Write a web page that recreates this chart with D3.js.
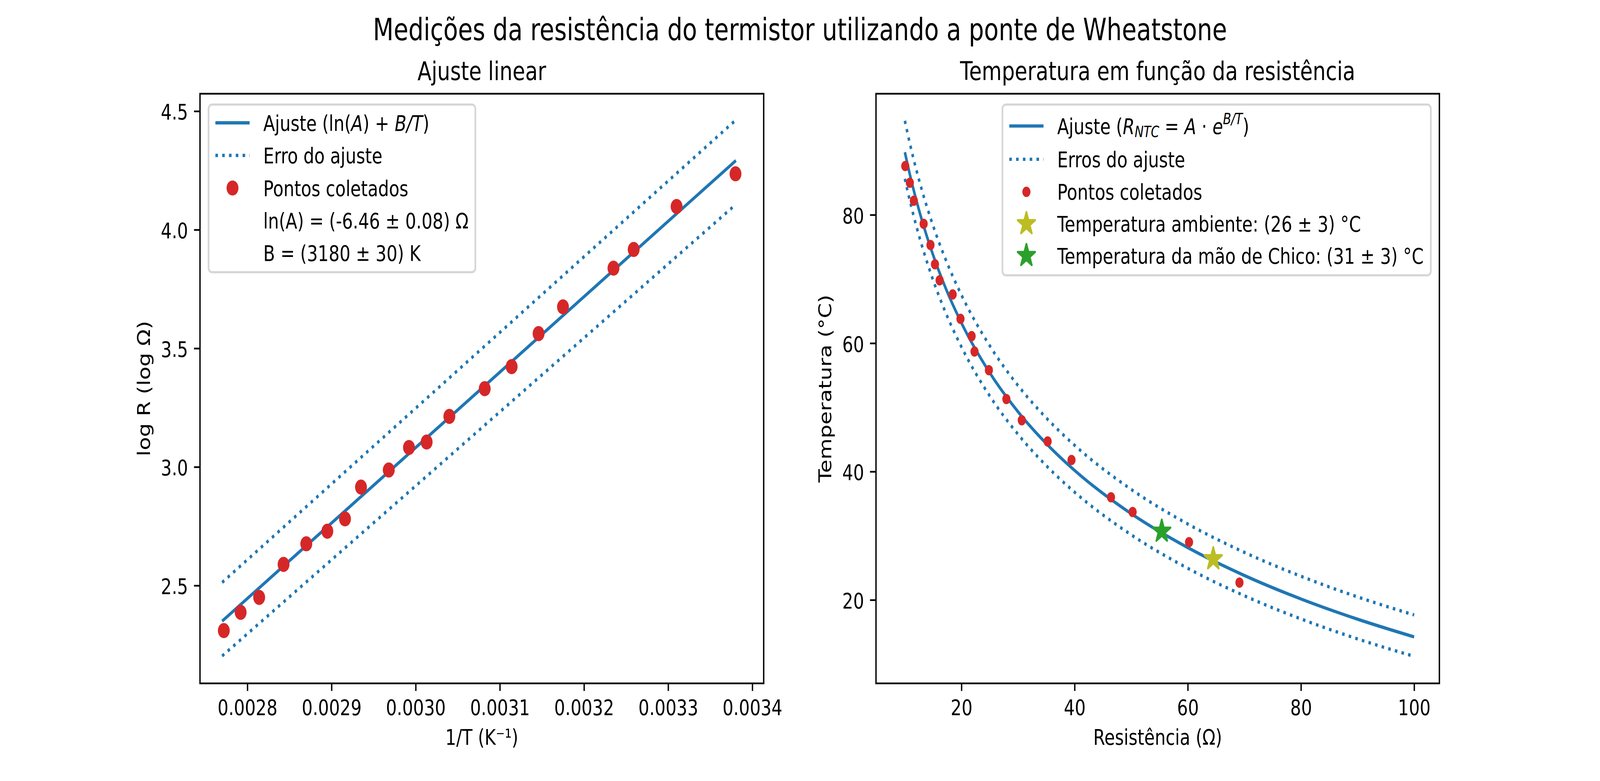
<!DOCTYPE html>
<html>
<head>
<meta charset="utf-8">
<title>Termistor - ponte de Wheatstone</title>
<script src="https://cdn.jsdelivr.net/npm/d3@7"></script>
<style>
  html, body { margin: 0; padding: 0; background: #fff; overflow: hidden; }
  #chart svg { display: block; width: 100vw; height: 100vh; }
  svg text { font-family: "DejaVu Sans", sans-serif; fill: #000; white-space: pre; }
</style>
</head>
<body>
<div id="chart"></div>
<script>
// ---- values ----

// left panel: ln R against 1/T
const invT = [0.002772, 0.002792, 0.002814, 0.002843, 0.00287, 0.002895, 0.002916, 0.002935, 0.002968, 0.002992,
              0.003013, 0.00304, 0.003082, 0.003114, 0.003146, 0.003175, 0.003235, 0.003259, 0.00331, 0.00338];
const logR = [2.310, 2.387, 2.450, 2.589, 2.676, 2.729, 2.781, 2.915, 2.987, 3.082,
              3.105, 3.213, 3.330, 3.423, 3.562, 3.675, 3.838, 3.917, 4.098, 4.236];
// straight fit lines: both ends
const lineInvT = [0.00277, 0.0033805];
const lineFit = [2.350, 4.292];
const lineUpper = [2.513, 4.463];
const lineLower = [2.203, 4.107];

// right panel: temperature against resistance
const resist = [10.07, 10.88, 11.59, 13.32, 14.53, 15.32, 16.14, 18.45, 19.83, 21.80,
                22.31, 24.85, 27.94, 30.66, 35.23, 39.45, 46.43, 50.25, 60.22, 69.13];
const tempC = [87.6, 85.0, 82.2, 78.6, 75.3, 72.3, 69.8, 67.6, 63.8, 61.1,
               58.7, 55.8, 51.3, 48.0, 44.7, 41.8, 36.0, 33.7, 29.0, 22.7];
const curveR = [10, 11, 12, 13, 15, 17, 20, 25, 30, 35, 40, 50, 60, 70, 80, 90, 100];
const curveFit = [89.75, 85.85, 82.36, 79.20, 73.71, 69.03, 63.16, 55.40, 49.32, 44.36, 40.18, 33.44, 28.15, 23.81, 20.15, 17.00, 14.24];
const curveUpper = [94.65, 90.67, 87.10, 83.88, 78.27, 73.50, 67.51, 59.60, 53.40, 48.35, 44.09, 37.22, 31.83, 27.41, 23.69, 20.47, 17.66];
const curveLower = [85.62, 81.77, 78.34, 75.24, 69.81, 65.21, 59.42, 51.78, 45.80, 40.91, 36.79, 30.15, 24.93, 20.65, 17.04, 13.93, 11.21];
// stars: ambient, hand
const starR = [64.5, 55.4];
const starT = [26.4, 30.7];

const leftXTicks = [0.0028, 0.0029, 0.0030, 0.0031, 0.0032, 0.0033, 0.0034];
const leftYTicks = [2.5, 3.0, 3.5, 4.0, 4.5];
const rightXTicks = [20, 40, 60, 80, 100];
const rightYTicks = [20, 40, 60, 80];

// ---- layout (figure 13x5 in at 400 dpi) ----
const width = 5200, height = 2000;
const fs = 55.6;          // 10 pt
const lw = 8.33;          // 1.5 pt
const tickLen = 19.4;     // 3.5 pt
const spineW = 4.44;      // 0.8 pt
const dotted = "8.33,13.75";
const blue = "#1f77b4", red = "#d62728", olive = "#bcbd22", green = "#2ca02c";
const axTop = 240, axBottom = 1750;

// the figure is stretched over the whole window
const svg = d3.select("#chart").append("svg")
  .attr("viewBox", `0 0 ${width} ${height}`)
  .attr("preserveAspectRatio", "none");
svg.append("rect").attr("width", width).attr("height", height).attr("fill", "#fff");

svg.append("text")
  .attr("x", 2600).attr("y", 103)
  .attr("text-anchor", "middle")
  .style("font-size", "77.8px")
  .text("Medições da resistência do termistor utilizando a ponte de Wheatstone");

function drawAxes(x, y, xt, yt, xfmt, yfmt) {
  const gx = svg.append("g").attr("transform", `translate(0,${axBottom})`)
    .call(d3.axisBottom(x).tickValues(xt).tickFormat(xfmt)
      .tickSize(tickLen).tickPadding(tickLen).tickSizeOuter(0));
  const gy = svg.append("g").attr("transform", `translate(${x.range()[0]},0)`)
    .call(d3.axisLeft(y).tickValues(yt).tickFormat(yfmt)
      .tickSize(tickLen).tickPadding(tickLen).tickSizeOuter(0));
  [gx, gy].forEach(g => {
    g.select(".domain").remove();
    g.selectAll("line").attr("stroke", "#000").attr("stroke-width", spineW);
    g.selectAll("text").style("font-size", fs + "px");
  });
  gx.selectAll("text").attr("dy", "0.76em");
  gy.selectAll("text").attr("dy", "0.38em");
}

function frame(x) {
  svg.append("rect")
    .attr("x", x.range()[0]).attr("y", axTop)
    .attr("width", x.range()[1] - x.range()[0]).attr("height", axBottom - axTop)
    .attr("fill", "none").attr("stroke", "#000").attr("stroke-width", spineW);
}

function label(x, y, txt, rotate) {
  svg.append("text")
    .attr("transform", `translate(${x},${y})` + (rotate ? " rotate(-90)" : ""))
    .attr("text-anchor", "middle")
    .style("font-size", fs + "px")
    .text(txt);
}

function title(x, txt) {
  svg.append("text")
    .attr("x", x).attr("y", 205)
    .attr("text-anchor", "middle")
    .style("font-size", "66.7px")
    .text(txt);
}

function starPath(r) {
  return d3.symbol(d3.symbolStar, r * r / 0.8908130915292852)();
}

function addParts(t, parts) {
  let shift = 0;
  parts.forEach(([s, k]) => {
    const target = k === "sub" ? 8 : k === "sup" ? -25 : 0;
    const sp = t.append("tspan").text(s);
    if (target !== shift) { sp.attr("dy", target - shift); shift = target; }
    if (k) sp.style("font-style", "italic");
    if (k === "sub" || k === "sup") sp.style("font-size", (fs * 0.7) + "px");
  });
}

// legend: matplotlib spacing in units of font size
function drawLegend(entries, rowY, boxTop, boxBottom, side, edge) {
  const pad = 0.4 * fs, handleLen = 2.0 * fs, handlePad = 0.8 * fs;
  const g = svg.append("g");
  const box = g.append("rect");
  const texts = entries.map((e, i) => {
    const t = g.append("text").attr("y", rowY[i]).attr("dy", "0.36em").style("font-size", fs + "px");
    addParts(t, e.parts);
    return t;
  });
  const maxW = d3.max(texts, t => t.node().getBBox().width);
  const boxW = pad + handleLen + handlePad + maxW + pad;
  const x0 = side === "left" ? edge : edge - boxW;
  box.attr("x", x0).attr("y", boxTop).attr("width", boxW).attr("height", boxBottom - boxTop)
    .attr("rx", 0.2 * fs)
    .attr("fill", "#fff").attr("fill-opacity", 0.8)
    .attr("stroke", "#cccccc").attr("stroke-opacity", 0.8).attr("stroke-width", 5.56);
  texts.forEach(t => t.attr("x", x0 + pad + handleLen + handlePad));
  const hx = x0 + pad, hc = x0 + pad + handleLen / 2;
  entries.forEach((e, i) => {
    const yy = rowY[i];
    if (e.kind === "line" || e.kind === "dot") {
      g.append("line").attr("x1", hx).attr("x2", hx + handleLen).attr("y1", yy).attr("y2", yy)
        .attr("stroke", blue).attr("stroke-width", lw)
        .attr("stroke-dasharray", e.kind === "dot" ? dotted : null);
    } else if (e.kind === "circle") {
      g.append("circle").attr("cx", hc).attr("cy", yy).attr("r", e.r).attr("fill", red);
    } else if (e.kind === "star") {
      g.append("path").attr("d", starPath(30)).attr("transform", `translate(${hc},${yy})`)
        .attr("fill", e.color).attr("stroke", e.color).attr("stroke-width", 5.5)
        .attr("stroke-linejoin", "round");
    }
  });
}

// ---- left panel ----
const x1 = d3.scaleLinear().domain([0.0027437, 0.0034135]).range([650, 2482]);
const y1 = d3.scaleLinear().domain([2.0875, 4.5736]).range([axBottom, axTop]);

const line1 = d3.line().x(d => x1(d[0])).y(d => y1(d[1]));
[[lineFit, null], [lineUpper, dotted], [lineLower, dotted]].forEach(([ys, dash]) => {
  svg.append("path")
    .attr("d", line1(lineInvT.map((v, i) => [v, ys[i]])))
    .attr("fill", "none").attr("stroke", blue).attr("stroke-width", lw)
    .attr("stroke-dasharray", dash);
});
svg.append("g").selectAll("circle").data(invT).join("circle")
  .attr("cx", d => x1(d)).attr("cy", (d, i) => y1(logR[i])).attr("r", 19.3).attr("fill", red);

drawAxes(x1, y1, leftXTicks, leftYTicks, d3.format(".4f"), d3.format(".1f"));
frame(x1);
title(1566, "Ajuste linear");
label(1566, 1907, "1/T (K⁻¹)");
label(488, 995, "log R (log Ω)", true);

drawLegend([
  { kind: "line", parts: [["Ajuste ("], ["ln("], ["A", "i"], [")"], [" + "], ["B/T", "i"], [")"]] },
  { kind: "dot", parts: [["Erro do ajuste"]] },
  { kind: "circle", r: 19.3, parts: [["Pontos coletados"]] },
  { kind: "none", parts: [["ln(A) = (-6.46 ± 0.08) Ω"]] },
  { kind: "none", parts: [["B = (3180 ± 30) K"]] }
], [314.5, 398, 481.5, 564.5, 647.5], 267.8, 697, "left", 650 + 0.5 * fs);

// ---- right panel ----
const x2 = d3.scaleLinear().domain([4.9, 104.46]).range([2847, 4678]);
const y2 = d3.scaleLinear().domain([7.0, 98.87]).range([axBottom, axTop]);

const line2 = d3.line().x(d => x2(d[0])).y(d => y2(d[1])).curve(d3.curveMonotoneX);
[[curveFit, null], [curveUpper, dotted], [curveLower, dotted]].forEach(([ts, dash]) => {
  svg.append("path")
    .attr("d", line2(curveR.map((r, i) => [r, ts[i]])))
    .attr("fill", "none").attr("stroke", blue).attr("stroke-width", lw)
    .attr("stroke-dasharray", dash);
});
svg.append("g").selectAll("circle").data(resist).join("circle")
  .attr("cx", d => x2(d)).attr("cy", (d, i) => y2(tempC[i])).attr("r", 13.2).attr("fill", red);
const starColors = [olive, green];
svg.append("g").selectAll("path").data(starR).join("path")
  .attr("d", starPath(30))
  .attr("transform", (d, i) => `translate(${x2(d)},${y2(starT[i])})`)
  .attr("fill", (d, i) => starColors[i]).attr("stroke", (d, i) => starColors[i])
  .attr("stroke-width", 5.5).attr("stroke-linejoin", "round");

drawAxes(x2, y2, rightXTicks, rightYTicks, d3.format("d"), d3.format("d"));
frame(x2);
title(3762.5, "Temperatura em função da resistência");
label(3762.5, 1907, "Resistência (Ω)");
label(2702, 995, "Temperatura (°C)", true);

drawLegend([
  { kind: "line", parts: [["Ajuste ("], ["R", "i"], ["NTC", "sub"], [" = "], ["A", "i"], [" · "], ["e", "i"], ["B/T", "sup"], [")"]] },
  { kind: "dot", parts: [["Erros do ajuste"]] },
  { kind: "circle", r: 13.2, parts: [["Pontos coletados"]] },
  { kind: "star", color: olive, parts: [["Temperatura ambiente: (26 ± 3) °C"]] },
  { kind: "star", color: green, parts: [["Temperatura da mão de Chico: (31 ± 3) °C"]] }
], [322.7, 407.8, 491.3, 573, 654.6], 267.8, 705, "right", 4678 - 0.5 * fs);
</script>
</body>
</html>
